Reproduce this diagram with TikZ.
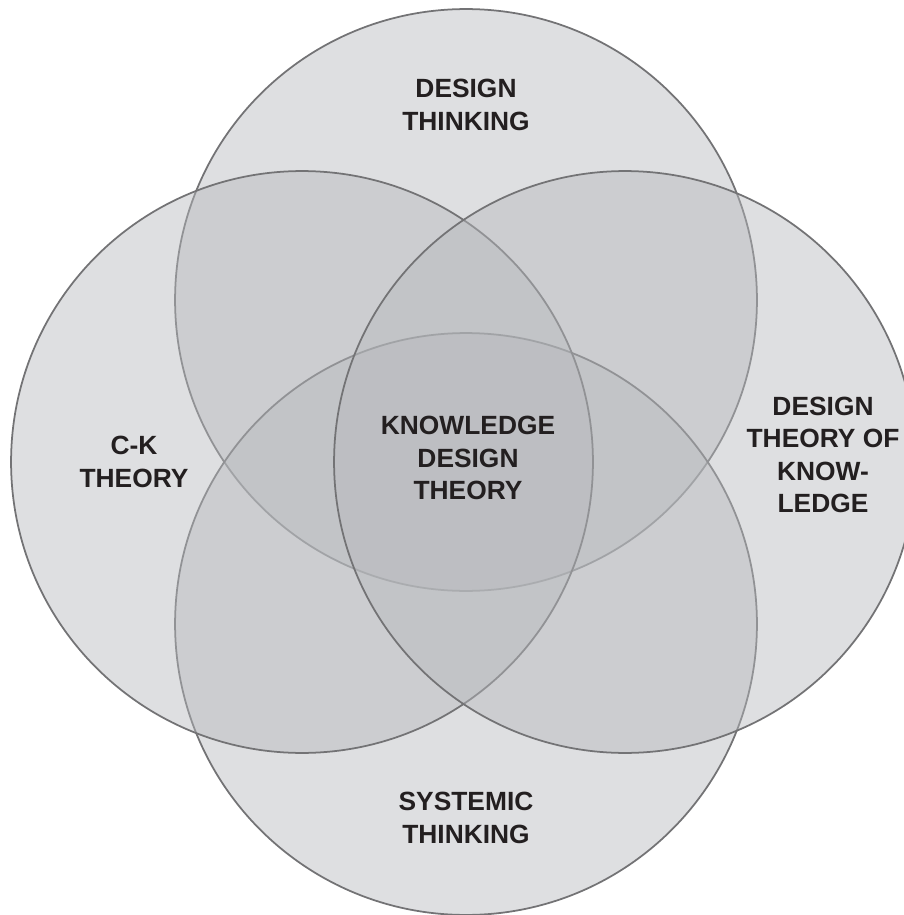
\documentclass[tikz,border=0pt]{standalone}
\usepackage{fontspec}
\setmainfont{Liberation Sans}
\usepackage{tikz}
\usetikzlibrary{positioning}

\definecolor{vennfill}{RGB}{182,184,188}
\definecolor{vennline}{RGB}{115,115,117}
\definecolor{labeltext}{RGB}{35,31,32}

\begin{document}
\begin{tikzpicture}[
        x=0.02cm, y=-0.02cm,
        set/.style={
            circle,
            minimum size=11.64cm,
            draw=vennline,
            fill=vennfill,
            fill opacity=0.45,
            line width=1pt
        },
        tag/.style={
            align=center,
            text=labeltext,
            font=\fontsize{15}{18.4}\selectfont\bfseries
        }
    ]
        \useasboundingbox (0,0) rectangle (903,915);

        \node (design) [set] at (466,300) {};
        \node (systemic) [set] at (466,624) {};
        \node (ck) [set] at (302,462) {};
        \node (dtk) [set] at (625,462) {};

        \node (designtag) [tag] at (466,105) {DESIGN\\THINKING};
        \node (systemictag) [tag] at (466,818) {SYSTEMIC\\THINKING};
        \node (cktag) [tag] at (134,462) {C-K\\THEORY};
        \node (dtktag) [tag] at (823,455) {DESIGN\\THEORY OF\\KNOW-\\LEDGE};
        \node (kdttag) [tag] at (468,458) {KNOWLEDGE\\DESIGN\\THEORY};
    \end{tikzpicture}
\end{document}
